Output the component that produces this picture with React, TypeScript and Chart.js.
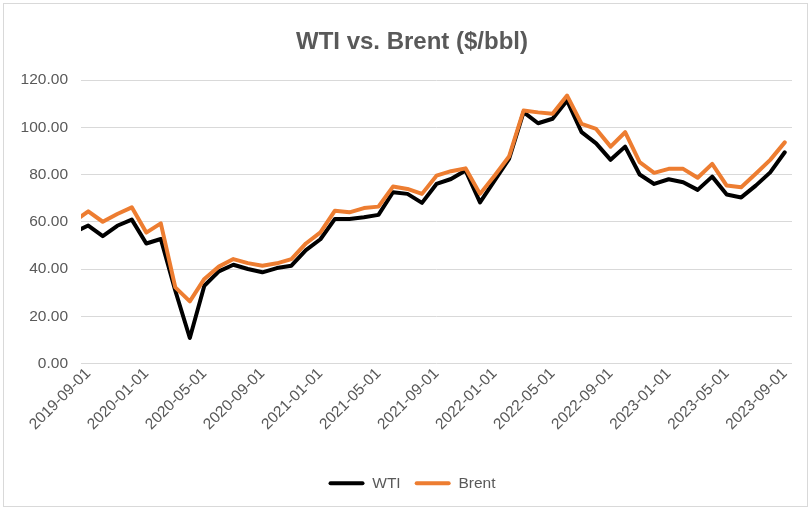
import React, { useEffect, useRef } from 'react';
import { Chart, registerables } from 'chart.js';

Chart.register(...registerables);

// Monthly dates (first entry lies just outside the visible range; its line stub is clipped)
const dates = [
  '2019-08-01',
  '2019-09-01', '2019-10-01', '2019-11-01', '2019-12-01',
  '2020-01-01', '2020-02-01', '2020-03-01', '2020-04-01',
  '2020-05-01', '2020-06-01', '2020-07-01', '2020-08-01',
  '2020-09-01', '2020-10-01', '2020-11-01', '2020-12-01',
  '2021-01-01', '2021-02-01', '2021-03-01', '2021-04-01',
  '2021-05-01', '2021-06-01', '2021-07-01', '2021-08-01',
  '2021-09-01', '2021-10-01', '2021-11-01', '2021-12-01',
  '2022-01-01', '2022-02-01', '2022-03-01', '2022-04-01',
  '2022-05-01', '2022-06-01', '2022-07-01', '2022-08-01',
  '2022-09-01', '2022-10-01', '2022-11-01', '2022-12-01',
  '2023-01-01', '2023-02-01', '2023-03-01', '2023-04-01',
  '2023-05-01', '2023-06-01', '2023-07-01', '2023-08-01',
  '2023-09-01',
];

const wti = [
  55.5,
  58.4, 53.9, 58.3, 60.9,
  50.8, 52.7, 30.8, 10.8,
  32.9, 39.0, 41.8, 40.0,
  38.6, 40.4, 41.4, 48.0,
  52.6, 61.2, 61.2, 61.9,
  62.9, 72.5, 71.8, 68.0,
  76.0, 78.1, 81.7, 68.2,
  77.4, 86.6, 106.4, 101.7,
  103.6, 111.3, 97.9, 93.2,
  86.2, 91.8, 80.0, 76.0,
  78.0, 76.7, 73.5, 79.1,
  71.5, 70.3, 75.3, 80.9,
  89.4,
];

const brent = [
  60.0,
  64.4, 60.0, 63.3, 66.1,
  55.4, 59.3, 32.2, 26.3,
  35.8, 41.0, 44.2, 42.5,
  41.4, 42.4, 44.2, 50.8,
  55.5, 64.7, 64.0, 65.8,
  66.4, 74.9, 73.9, 71.8,
  79.5, 81.4, 82.6, 71.8,
  79.5, 87.6, 107.1, 106.3,
  105.7, 113.4, 101.4, 99.3,
  91.8, 97.9, 85.2, 80.7,
  82.4, 82.4, 78.6, 84.5,
  75.3, 74.6, 80.3, 86.2,
  93.6,
];

const tickDates = [
  '2019-09-01', '2020-01-01', '2020-05-01', '2020-09-01', '2021-01-01',
  '2021-05-01', '2021-09-01', '2022-01-01', '2022-05-01', '2022-09-01',
  '2023-01-01', '2023-05-01', '2023-09-01',
];

const FONT = "'Liberation Sans', Arial, sans-serif";
const TEXT = '#595959';

export default function App() {
  const ref = useRef<HTMLCanvasElement>(null);

  useEffect(() => {
    document.body.style.margin = '0';
    const tickIdx = tickDates.map((d) => dates.indexOf(d) - 1);
    const toPts = (arr: number[]) => arr.map((v, i) => ({ x: i - 1, y: v }));
    const clip = { left: 0, right: 5, top: 5, bottom: 5 };

    const chart = new Chart(ref.current as HTMLCanvasElement, {
      type: 'line',
      data: {
        datasets: [
          {
            label: 'WTI',
            data: toPts(wti),
            borderColor: '#000000',
            backgroundColor: '#000000',
            borderWidth: 4,
            pointRadius: 0,
            tension: 0,
            order: 1,
            clip,
            borderJoinStyle: 'round',
            borderCapStyle: 'round',
          } as any,
          {
            label: 'Brent',
            data: toPts(brent),
            borderColor: '#ED7D31',
            backgroundColor: '#ED7D31',
            borderWidth: 4,
            pointRadius: 0,
            tension: 0,
            order: 0,
            clip,
            borderJoinStyle: 'round',
            borderCapStyle: 'round',
          } as any,
        ],
      },
      options: {
        responsive: false,
        maintainAspectRatio: false,
        animation: false,
        layout: { padding: { left: 13, right: 0, top: 0, bottom: 9 } },
        plugins: {
          title: {
            display: true,
            text: 'WTI vs. Brent ($/bbl)',
            color: TEXT,
            font: { family: FONT, size: 24, weight: 'bold' },
            padding: { top: 27.6, bottom: 23.6 },
          },
          legend: {
            position: 'bottom',
            labels: {
              boxWidth: 36,
              boxHeight: 4,
              padding: 14,
              color: TEXT,
              font: { family: FONT, size: 15.5 },
              sort: (a: any, b: any) => a.datasetIndex - b.datasetIndex,
              generateLabels: (c: any) =>
                Chart.defaults.plugins.legend.labels
                  .generateLabels(c)
                  .map((l: any) => ({ ...l, lineWidth: 0, borderRadius: 2 })),
            },
          },
          tooltip: { enabled: false },
        },
        scales: {
          x: {
            type: 'linear',
            min: -0.5,
            max: 48.5,
            grid: { display: false, drawTicks: false },
            border: { display: false },
            afterFit: (s: any) => {
              s.height = 98;
            },
            afterBuildTicks: (s: any) => {
              s.ticks = tickIdx.map((v) => ({ value: v }));
            },
            ticks: {
              autoSkip: false,
              minRotation: 45,
              maxRotation: 45,
              color: TEXT,
              font: { family: FONT, size: 15.5 },
              padding: 1,
              callback: (v: any) => dates[Number(v) + 1] ?? '',
            },
          },
          y: {
            min: 0,
            max: 120,
            grid: { color: '#d9d9d9', lineWidth: 1, drawTicks: false },
            border: { display: false },
            afterFit: (s: any) => {
              s.width = 68;
            },
            ticks: {
              stepSize: 20,
              padding: 13,
              color: TEXT,
              font: { family: FONT, size: 15.5 },
              callback: (v: any) => Number(v).toFixed(2),
            },
          },
          yRight: {
            type: 'linear',
            position: 'right',
            display: true,
            grid: { display: false, drawTicks: false },
            border: { display: false },
            ticks: { display: false },
            afterFit: (s: any) => {
              s.width = 19;
            },
          },
        },
      } as any,
    });
    return () => chart.destroy();
  }, []);

  return (
    <div style={{ position: 'relative', width: 811, height: 510, background: '#ffffff' }}>
      <div
        style={{
          position: 'absolute',
          left: 3,
          top: 3,
          right: 3,
          bottom: 3,
          border: '1px solid #d9d9d9',
          pointerEvents: 'none',
        }}
      />
      <canvas
        ref={ref}
        width={811}
        height={510}
        style={{ position: 'absolute', left: 0, top: 0, width: 811, height: 510 }}
      />
    </div>
  );
}
